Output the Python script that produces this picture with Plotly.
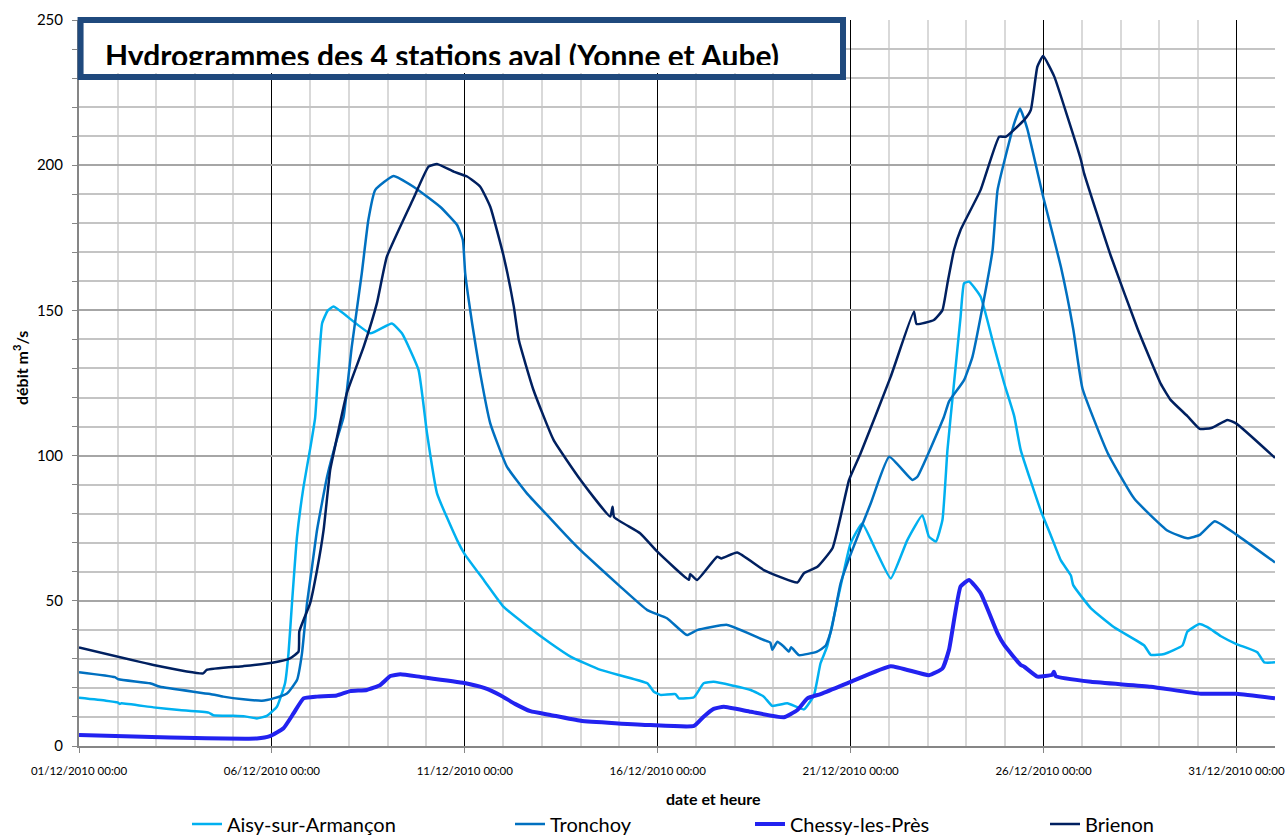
import pandas as pd
import plotly.graph_objects as go

# day offsets from 01/12/2010 00:00 and discharge (m3/s)
aisy_days = [0, 0.7, 1.0, 1.06, 1.1, 1.93, 2.6, 3.36, 3.48, 4.0, 4.3, 4.61, 4.87, 5.13, 5.34, 5.43,
             5.52, 5.65, 5.82, 6.0, 6.12, 6.30, 6.45, 6.60, 7.55, 8.11, 8.37, 8.80, 9.02, 9.28, 9.80,
             10.0, 10.5, 11.0, 11.6, 12.22, 12.74, 13.52, 14.73, 14.90, 15.07, 15.46, 15.55, 15.94,
             16.19, 16.45, 17.41, 17.75, 17.97, 18.36, 18.79, 19.05, 19.22, 19.39, 19.74, 20.0, 20.30,
             20.65, 21.04, 21.47, 21.86, 22.03, 22.21, 22.38, 22.51, 22.68, 22.85, 22.94, 23.07, 23.37,
             23.72, 23.98, 24.24, 24.41, 24.93, 25.19, 25.45, 25.71, 25.77, 26.23, 26.83, 27.61, 27.78,
             28.13, 28.60, 28.73, 29.04, 29.25, 29.60, 30.0, 30.54, 30.72, 31.0]
aisy_vals = [16.6, 15.6, 15.0, 14.5, 14.7, 13.3, 12.4, 11.5, 10.6, 10.4, 10.2, 9.5, 10.4, 13.5, 21.6, 31.9,
             49.1, 72.0, 89.3, 103.0, 113.0, 145.5, 150.0, 151.3, 142.1, 145.5, 142.1, 129.5, 107.7, 87.0, 70.9,
             66.0, 57.0, 48.0, 41.5, 35.4, 30.8, 26.2, 21.6, 18.7, 17.6, 17.9, 16.4, 16.8,
             21.6, 22.1, 19.3, 17.0, 13.8, 14.7, 12.6, 17.5, 28.5, 34.2, 55.0, 69.8, 76.6,
             67.5, 57.7, 70.9, 79.5, 72.1, 70.4, 77.8, 101.9, 124.9, 147.8, 159.3, 159.9, 154.7,
             137.5, 124.9, 113.6, 101.9, 81.0, 72.5, 63.9, 58.7, 55.4, 47.4, 40.9, 34.6, 31.4,
             31.7, 34.6, 39.4, 42.0, 40.9, 37.8, 35.1, 32.3, 28.8, 28.8]

tron_days = [0, 0.93, 1.02, 1.84, 2.10, 3.40, 3.74, 4.26, 4.74, 5.04, 5.39, 5.65, 5.78, 5.91, 6.04, 6.17,
             6.43, 6.68, 6.86, 7.07, 7.33, 7.50, 7.68, 8.15, 8.67, 9.36, 9.80, 9.95, 10.01, 10.19, 10.40,
             10.66, 11.09, 11.61, 12.22, 12.74, 13.08, 14.03, 14.73, 15.24, 15.76, 16.02, 16.80, 17.75,
             17.92, 17.97, 18.10, 18.27, 18.40, 18.46, 18.66, 19.13, 19.35, 19.50, 19.74, 20.0, 20.52,
             21.0, 21.60, 21.73, 22.42, 22.55, 22.94, 23.16, 23.37, 23.68, 23.81, 24.24, 24.39, 24.58,
             24.99, 25.45, 25.77, 26.01, 26.66, 27.35, 28.22, 28.73, 29.05, 29.44, 30.0, 31.0]
tron_vals = [25.4, 23.7, 23.0, 21.6, 20.4, 17.9, 17.0, 16.1, 15.6, 16.4, 18.1, 22.7, 31.9, 49.1, 61.7, 74.4,
             92.7, 105.4, 113.4, 137.5, 162.8, 181.1, 191.5, 196.3, 192.6, 185.7, 179.4, 174.2, 162.8, 145.5, 128.3,
             111.1, 96.2, 87.0, 78.3, 70.9, 66.4, 54.9, 46.8, 44.0, 38.2, 39.9, 41.7, 36.5,
             35.6, 33.1, 35.9, 34.2, 32.5, 34.0, 31.3, 32.5, 34.5, 40.0, 56.0, 66.0, 83.5,
             99.6, 91.6, 92.7, 113.4, 118.6, 126.0, 134.1, 147.8, 170.8, 191.5, 214.4, 219.5, 212.5,
             189.2, 165.0, 143.6, 123.1, 101.0, 85.2, 74.1, 71.5, 72.7, 77.4, 72.8, 63.2]

chessy_days = [0, 2.36, 4.61, 4.95, 5.30, 5.56, 5.82, 6.17, 6.68, 7.03, 7.46, 7.81, 8.07, 8.33, 8.85,
               9.99, 10.5, 10.92, 11.3, 11.7, 12.22, 13.0, 14.81, 15.94, 16.19, 16.45, 16.71, 17.41, 18.27,
               18.62, 18.88, 19.22, 20.0, 21.04, 22.03, 22.38, 22.55, 22.85, 23.07, 23.37, 23.81, 23.98,
               24.41, 24.50, 24.84, 25.23, 25.27, 25.32, 26.23, 27.78, 29.08, 30.0, 31.0]
chessy_vals = [3.8, 2.9, 2.6, 3.4, 6.1, 11.2, 16.4, 17.0, 17.4, 18.9, 19.3, 21.0, 24.1, 24.7, 23.8,
               21.7, 20.0, 17.5, 14.5, 12.0, 10.7, 8.7, 7.2, 6.9, 10.1, 12.8, 13.5, 11.8, 9.9,
               12.4, 16.4, 17.9, 22.1, 27.5, 24.4, 26.7, 33.1, 54.9, 57.2, 52.6, 38.8, 34.8,
               27.9, 27.3, 23.9, 24.6, 25.6, 24.0, 22.1, 20.4, 18.0, 18.0, 16.4]

brienon_days = [0, 1.93, 3.22, 3.31, 4.26, 5.01, 5.47, 5.69, 5.71, 5.82, 5.99, 6.17, 6.34, 6.51, 6.60,
                6.94, 7.38, 7.72, 7.98, 8.67, 9.06, 9.28, 9.71, 10.06, 10.40, 10.66, 11.01, 11.27, 11.40,
                11.78, 12.30, 13.0, 13.77, 13.83, 13.87, 14.55, 14.99, 15.81, 15.84, 16.02, 16.54, 16.65,
                17.06, 17.75, 18.62, 18.79, 19.14, 19.53, 19.74, 19.96, 20.26, 21.04, 21.64, 21.71, 22.16,
                22.38, 22.51, 22.68, 22.85, 23.37, 23.85, 24.02, 24.50, 24.67, 24.84, 24.99, 25.28, 25.62,
                25.97, 26.05, 26.74, 27.44, 28.04, 28.30, 28.73, 29.05, 29.35, 29.77, 30.0, 31.0]
brienon_vals = [33.9, 27.9, 25.0, 26.2, 27.5, 28.7, 30.2, 32.5, 39.4, 43.4, 49.1, 60.6, 74.4, 95.0, 100.8,
                121.4, 137.5, 152.4, 168.5, 188.6, 199.5, 200.4, 197.8, 196.1, 192.6, 185.7, 168.5, 151.3, 139.8,
                122.6, 105.4, 91.6, 79.0, 82.4, 78.8, 73.2, 66.9, 57.2, 59.2, 57.2, 65.2, 64.6,
                66.6, 60.6, 56.3, 59.5, 61.7, 68.1, 79.0, 91.6, 100.8, 127.2, 149.6, 145.3, 146.7,
                150.1, 159.3, 170.8, 177.7, 191.5, 209.8, 209.8, 215.6, 219.0, 233.9, 237.6, 230.5, 216.7,
                201.8, 197.3, 168.9, 143.6, 124.7, 119.1, 113.6, 109.2, 109.5, 112.3, 111.0, 99.2]

t0 = pd.Timestamp("2010-12-01 00:00")


def to_dates(days):
    return list((t0 + pd.to_timedelta(days, unit="D")).round("min"))


series = [
    ("Aisy-sur-Armançon", aisy_days, aisy_vals, "#00b0f0", 2.5, "legend"),
    ("Tronchoy", tron_days, tron_vals, "#0070c0", 2.5, "legend2"),
    ("Chessy-les-Près", chessy_days, chessy_vals, "#2222f0", 4, "legend3"),
    ("Brienon", brienon_days, brienon_vals, "#002060", 2.5, "legend4"),
]

fig = go.Figure()
for name, d, v, color, w, leg in series:
    fig.add_trace(go.Scatter(
        x=to_dates(d), y=v, name=name, mode="lines",
        line=dict(color=color, width=w, shape="spline", smoothing=0.4),
        legend=leg,
    ))

# white background of the title box (overlay subplot, drawn above the gridlines)
fig.add_trace(go.Scatter(
    x=[0, 1, 1, 0, 0], y=[0, 0, 1, 1, 0], xaxis="x2", yaxis="y2", mode="lines",
    fill="toself", fillcolor="white", line=dict(width=0, color="white"),
    showlegend=False, hoverinfo="skip",
))

# title text in its own overlay subplot so that its lower part is clipped like the original
fig.add_trace(go.Scatter(
    x=[0.034], y=[0.118], xaxis="x3", yaxis="y3", mode="text",
    text=["Hydrogrammes des 4 stations aval (Yonne et Aube)"],
    textposition="middle right", cliponaxis=True,
    textfont=dict(family="Lato", size=30, color="black", weight="bold"),
    showlegend=False, hoverinfo="skip",
))

leg_font = dict(family="Lato", size=20, color="black")
leg_y = 1 - 824 / 836
legends = {}
for key, xpx in [("legend", 187), ("legend2", 510), ("legend3", 750), ("legend4", 1045)]:
    legends[key] = dict(x=xpx / 1287, y=leg_y, xref="container", yref="container",
                        xanchor="left", yanchor="middle", orientation="h",
                        font=leg_font, bgcolor="rgba(0,0,0,0)", borderwidth=0)

fig.update_layout(
    width=1287, height=836,
    margin=dict(l=79, r=12, t=20, b=90, autoexpand=False),
    paper_bgcolor="white", plot_bgcolor="white",
    font=dict(family="Lato", color="black"),
    showlegend=True,
    **legends,
    xaxis=dict(
        type="date", range=["2010-12-01", "2011-01-01"],
        tick0="2010-12-01", dtick=5 * 86400000, tickformat="%d/%m/%Y %H:%M",
        tickfont=dict(size=11.5, color="black"), ticks="outside", ticklen=5, tickcolor="#868686",
        ticklabelstandoff=8,
        showgrid=True, gridcolor="black", gridwidth=1,
        minor=dict(dtick=86400000, showgrid=True, gridcolor="#d9d9d9", gridwidth=1.5),
        showline=True, linecolor="#868686", linewidth=2,
        zeroline=False,
    ),
    yaxis=dict(
        range=[0, 250], dtick=50, tickfont=dict(size=15, color="black"),
        ticks="outside", ticklen=5, tickcolor="#868686", ticklabelstandoff=6,
        showgrid=True, gridcolor="#a6a6a6", gridwidth=1.5,
        minor=dict(dtick=10, showgrid=True, gridcolor="#c4c4c4", gridwidth=1.5,
                   ticks="outside", ticklen=5, tickcolor="#868686"),
        showline=True, linecolor="#868686", linewidth=2,
        zeroline=False,
    ),
    xaxis2=dict(domain=[0, 0.641], range=[0, 1], anchor="y2", visible=False, fixedrange=True),
    yaxis2=dict(domain=[0.927, 1], range=[0, 1], anchor="x2", visible=False, fixedrange=True),
    xaxis3=dict(domain=[0, 0.641], range=[0, 1], anchor="y3", visible=False, fixedrange=True),
    yaxis3=dict(domain=[0.938, 1], range=[0, 1], anchor="x3", visible=False, fixedrange=True),
    annotations=[
        dict(text="<b>date et heure</b>", xref="paper", yref="paper",
             x=(713 - 79) / 1196, y=(746 - 798) / 726, xanchor="center", yanchor="middle",
             showarrow=False, font=dict(size=16, color="black")),
        dict(text="<b>débit m<sup>3</sup>/s</b>", xref="paper", yref="paper",
             x=(21 - 79) / 1196, y=(746 - 368) / 726, xanchor="center", yanchor="middle",
             textangle=-90, showarrow=False, font=dict(size=16, color="black")),
    ],
)

# dark blue frame of the title box
fig.add_shape(type="rect", xref="paper", yref="paper", x0=0.0013, x1=0.6388, y0=0.9215, y1=1.0,
              line=dict(color="#1f497d", width=6), fillcolor="rgba(0,0,0,0)", layer="above")

fig.write_html("out.html", config={"displayModeBar": False},
               post_script="document.body.style.margin='0';")
